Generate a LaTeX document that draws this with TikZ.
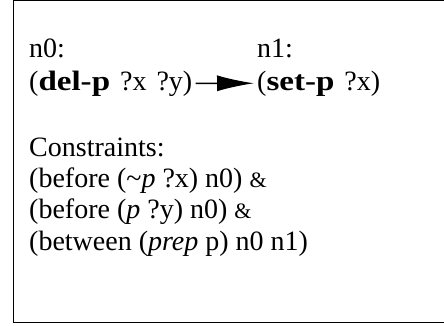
\documentclass[tikz,border=0pt]{standalone}
\usepackage{graphicx}
\usepackage{fontspec}
\setmainfont{Liberation Serif}
\usetikzlibrary{arrows.meta,positioning}

\newcommand\opname[1]{\scalebox{1.18}[1]{\textbf{#1}}}
\newcommand\smallamp{{\fontsize{22}{32}\selectfont\&}}
\newcommand\widespaces{\spaceskip=10pt\relax}

\begin{document}
\begin{tikzpicture}[
  x=1pt, y=-1pt,
  every node/.style={font=\fontsize{28}{32}\selectfont, inner sep=0pt, anchor=base west},
  stepexpr/.style={font=\fontsize{28}{32}\selectfont\widespaces},
  step arrow/.style={-{Latex[length=37pt,width=16pt]}, line width=1.5pt, shorten <=3pt, shorten >=3pt}
]
\useasboundingbox (0,0) rectangle (444,325);
\draw[line width=1.6pt] (470,0.5) -- (13.5,0.5) -- (13.5,322.5) -- (470,322.5);

% the two steps
\node (n0lbl) at (29,57) {n0:};
\node[stepexpr] (n0) at (29,90) {(\opname{del-p} ?x ?y)};
\node (n1lbl) at (257,57) {n1:};
\node[stepexpr] (n1) at (257,90) {(\opname{set-p} ?x)};
\draw[step arrow] (n0.east) -- (n1.west);

% constraints
\node (cons) at (29,156) {Constraints:};
\node (c1) at (29,187) {(before (\textasciitilde\textit{p} ?x) n0) \smallamp};
\node (c2) at (29,218) {(before (\textit{p} ?y) n0) \smallamp};
\node (c3) at (29,250) {(between (\textit{prep} p) n0 n1)};
\end{tikzpicture}
\end{document}
